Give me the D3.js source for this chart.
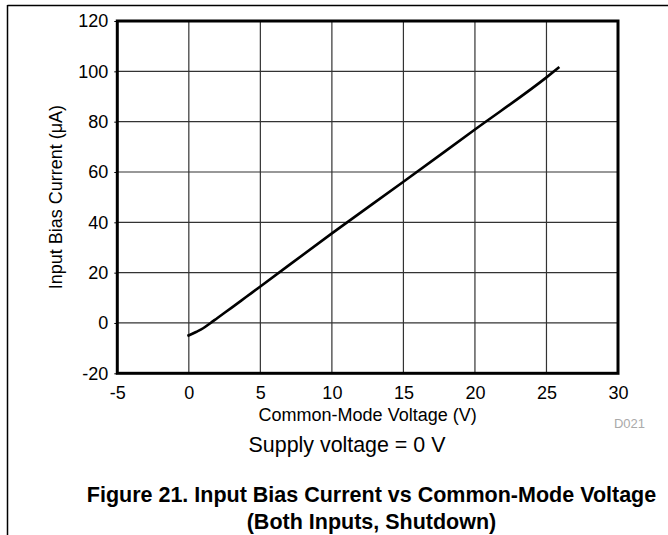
<!DOCTYPE html>
<html>
<head>
<meta charset="utf-8">
<script src="https://cdn.jsdelivr.net/npm/d3@7"></script>
<style>
  html, body { margin: 0; padding: 0; background: #fff; }
  svg { display: block; }
  text { font-family: "Liberation Sans", Arial, sans-serif; }
</style>
</head>
<body>
<svg id="chart" width="668" height="535"></svg>
<script>
// ---- data ----
const voltage = [-0.1, 0.5, 1.0, 1.5, 2, 3, 4, 5, 10, 15, 20, 25, 25.9];
const current = [-5.2, -3.6, -2.1, -0.1, 2.0, 6.1, 10.3, 14.5, 35.6, 56.1, 76.9, 97.6, 101.7];
const xTicks = [-5, 0, 5, 10, 15, 20, 25, 30];
const yTicks = [-20, 0, 20, 40, 60, 80, 100, 120];
const xLabel = "Common-Mode Voltage (V)";
const yLabel = "Input Bias Current (\u03BCA)";
const noteText = "Supply voltage = 0 V";
const codeText = "D021";
const titleLines = ["Figure 21. Input Bias Current vs Common-Mode Voltage", "(Both Inputs, Shutdown)"];

const svg = d3.select("#chart");
const W = 668, H = 535;
const mL = 117.3, mR = 618, mT = 21, mB = 373.3;

const x = d3.scaleLinear().domain([-5, 30]).range([mL, mR]);
const y = d3.scaleLinear().domain([-20, 120]).range([mB, mT]);

// page frame lines
svg.append("line").attr("x1", 7.5).attr("x2", W).attr("y1", 5.5).attr("y2", 5.5)
  .attr("stroke", "#000").attr("stroke-width", 1.5);
svg.append("line").attr("x1", 7.5).attr("x2", 7.5).attr("y1", 5).attr("y2", H)
  .attr("stroke", "#000").attr("stroke-width", 1.5);

// grid
const grid = svg.append("g");
grid.selectAll(".vg").data(xTicks.slice(1, -1)).join("line")
  .attr("x1", d => x(d)).attr("x2", d => x(d)).attr("y1", mT).attr("y2", mB)
  .attr("stroke", "#333").attr("stroke-width", 1.2);
grid.selectAll(".hg").data(yTicks.slice(1, -1)).join("line")
  .attr("x1", mL).attr("x2", mR).attr("y1", d => y(d)).attr("y2", d => y(d))
  .attr("stroke", "#333").attr("stroke-width", 1.2);

// axes
const fmt = d => String(d);
const xAxis = d3.axisBottom(x).tickValues(xTicks).tickSize(0).tickPadding(13).tickFormat(fmt);
const yAxis = d3.axisLeft(y).tickValues(yTicks).tickSize(3).tickPadding(6).tickFormat(fmt);
const gx = svg.append("g").attr("transform", `translate(0,${mB})`).call(xAxis);
const gy = svg.append("g").attr("transform", `translate(${mL},0)`).call(yAxis);
[gx, gy].forEach(g => {
  g.select(".domain").remove();
  g.selectAll("text").attr("font-size", 18).attr("fill", "#000")
    .attr("font-family", "'Liberation Sans', Arial, sans-serif");
  g.selectAll("line").attr("stroke", "#000");
});

// plot border
svg.append("rect").attr("x", mL).attr("y", mT).attr("width", mR - mL).attr("height", mB - mT)
  .attr("fill", "none").attr("stroke", "#000").attr("stroke-width", 3);

// data line
const pts = voltage.map((v, i) => [v, current[i]]);
svg.append("path").datum(pts)
  .attr("d", d3.line().x(d => x(d[0])).y(d => y(d[1])).curve(d3.curveMonotoneX))
  .attr("fill", "none").attr("stroke", "#000").attr("stroke-width", 2.6);

// axis titles
svg.append("text").attr("x", (mL + mR) / 2).attr("y", 420.5).attr("text-anchor", "middle")
  .attr("font-size", 18).text(xLabel);
svg.append("text").attr("transform", `translate(62,${(mT + mB) / 2}) rotate(-90)`)
  .attr("text-anchor", "middle").attr("font-size", 18).text(yLabel);

svg.append("text").attr("x", 645).attr("y", 428).attr("text-anchor", "end")
  .attr("font-size", 13).attr("fill", "#aaa").text(codeText);

svg.append("text").attr("x", 347).attr("y", 452).attr("text-anchor", "middle")
  .attr("font-size", 21.4).text(noteText);

svg.selectAll(".title").data(titleLines).join("text")
  .attr("x", 371.5).attr("y", (d, i) => 502 + i * 27).attr("text-anchor", "middle")
  .attr("font-size", 21.5).attr("font-weight", "bold").text(d => d);
</script>
</body>
</html>
